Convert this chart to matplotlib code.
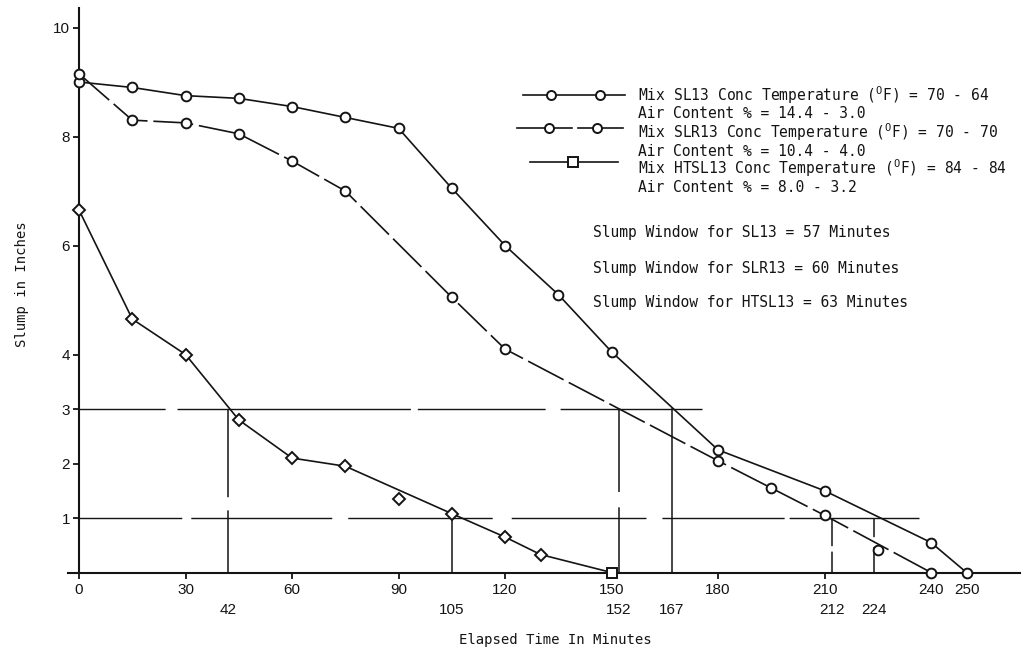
import matplotlib
matplotlib.use("Agg")
import matplotlib.pyplot as plt

plt.rcParams["mathtext.fontset"] = "custom"
plt.rcParams["mathtext.rm"] = "DejaVu Sans Mono"

# Slump loss readings: elapsed time (minutes) and slump (inches)
sl13_time = [0, 15, 30, 45, 60, 75, 90, 105, 120, 135, 150, 180, 210, 240, 250]
sl13_slump = [9.0, 8.9, 8.75, 8.7, 8.55, 8.35, 8.15, 7.05, 6.0, 5.1, 4.05, 2.25, 1.5, 0.55, 0.0]

slr13_time = [0, 15, 30, 45, 60, 75, 105, 120, 180, 195, 210, 240]
slr13_slump = [9.15, 8.3, 8.25, 8.05, 7.55, 7.0, 5.05, 4.1, 2.05, 1.55, 1.05, 0.0]
slr13_loose_time = [225]
slr13_loose_slump = [0.42]

htsl13_time = [0, 15, 30, 45, 60, 75, 105, 120, 130, 150]
htsl13_slump = [6.65, 4.65, 4.0, 2.8, 2.1, 1.95, 1.08, 0.65, 0.33, 0.0]
htsl13_loose_time = [90]
htsl13_loose_slump = [1.34]

# Slump window limits and the times at which each mix reaches them
upper_limit = 3
lower_limit = 1
upper_limit_end = 175.5
lower_limit_end = 236.5
window_times = [42, 105, 152, 167, 212, 224]
window_levels = [3, 1, 3, 3, 1, 1]

x_ticks = [0, 30, 60, 90, 120, 150, 180, 210, 240, 250]
y_ticks = [1, 2, 3, 4, 6, 8, 10]

legend_lines = [
    "Mix SL13 Conc Temperature ($^{\\mathrm{O}}$F) = 70 - 64",
    "Air Content % = 14.4 - 3.0",
    "Mix SLR13 Conc Temperature ($^{\\mathrm{O}}$F) = 70 - 70",
    "Air Content % = 10.4 - 4.0",
    "Mix HTSL13 Conc Temperature ($^{\\mathrm{O}}$F) = 84 - 84",
    "Air Content % = 8.0 - 3.2",
]
window_notes = [
    "Slump Window for SL13 = 57 Minutes",
    "Slump Window for SLR13 = 60 Minutes",
    "Slump Window for HTSL13 = 63 Minutes",
]

INK = "#141414"
MONO = ["DejaVu Sans Mono", "DejaVu Sans"]
W, H = 1026, 656

fig = plt.figure(figsize=(W / 100, H / 100), dpi=100)
ax = fig.add_axes([68.4 / W, (H - 572.5) / H, 951.4 / W, 564.6 / H])
ax.set_xlim(-3, 265)
ax.set_ylim(0, 10.36)

for side in ("top", "right"):
    ax.spines[side].set_visible(False)
ax.spines["left"].set_position(("data", 0))
for side in ("left", "bottom"):
    ax.spines[side].set_linewidth(1.5)
    ax.spines[side].set_color(INK)

ax.set_xticks(x_ticks)
ax.set_yticks(y_ticks)
ax.tick_params(axis="both", direction="out", length=4.5, width=1.3, color=INK,
               labelsize=11, labelcolor=INK)
ax.tick_params(axis="x", pad=3)
ax.tick_params(axis="y", pad=2)
for lab in ax.get_xticklabels() + ax.get_yticklabels():
    lab.set_family("Liberation Sans")

# Slump window limit lines
ax.plot([0, upper_limit_end], [upper_limit, upper_limit], color=INK, lw=1.0,
        linestyle=(0, (62, 8.6, 168, 5, 92, 10.8, 200, 1)))
ax.plot([0, lower_limit_end], [lower_limit, lower_limit], color=INK, lw=1.0,
        linestyle=(0, (74, 6.5, 101.5, 11.5, 104, 13.7, 97, 11.5, 88, 3.6, 200, 1)))

drop_styles = [
    (0, (41, 8.6, 200, 1)),
    "-",
    (0, (43, 10, 200, 1)),
    "-",
    (0, (14, 3.6, 200, 1)),
    (0, (17, 6.5, 200, 1)),
]
for t, lvl, ls in zip(window_times, window_levels, drop_styles):
    ax.plot([t, t], [0, lvl], color=INK, lw=1.1, linestyle=ls)
    ax.annotate(str(t), xy=(t, 0), xytext=(0, -27), textcoords="offset points",
                ha="center", va="center", fontsize=11, color=INK,
                family="Liberation Sans", annotation_clip=False)

# Data series
ax.plot(sl13_time, sl13_slump, color=INK, lw=1.2, marker="o", ms=7,
        mfc="white", mec=INK, mew=1.4, zorder=4, clip_on=False)
ax.plot(slr13_time, slr13_slump, color=INK, lw=1.2, marker="o", ms=7,
        mfc="white", mec=INK, mew=1.4, linestyle=(0, (24, 3.5)), zorder=4,
        clip_on=False)
ax.plot(slr13_loose_time, slr13_loose_slump, linestyle="none", marker="o", ms=7,
        mfc="white", mec=INK, mew=1.4, zorder=4)
ax.plot(htsl13_time[:-1], htsl13_slump[:-1], color=INK, lw=1.2, marker="D", ms=6,
        mfc="white", mec=INK, mew=1.4, zorder=4, clip_on=False)
ax.plot(htsl13_time[-2:], htsl13_slump[-2:], color=INK, lw=1.2, zorder=3,
        clip_on=False)
ax.plot(htsl13_time[-1:], htsl13_slump[-1:], linestyle="none", marker="s", ms=7,
        mfc="white", mec=INK, mew=1.4, zorder=4, clip_on=False)
ax.plot(htsl13_loose_time, htsl13_loose_slump, linestyle="none", marker="D", ms=6,
        mfc="white", mec=INK, mew=1.4, zorder=4)


def fx(px):
    return px / W


def fy(py):
    return (H - py) / H


# Key
tf = fig.transFigure
fig.add_artist(plt.Line2D([fx(523), fx(625)], [fy(95), fy(95)], color=INK, lw=1.2,
                          transform=tf))
fig.add_artist(plt.Line2D([fx(551), fx(600)], [fy(95), fy(95)], linestyle="none",
                          marker="o", ms=6.5, mfc="white", mec=INK, mew=1.4,
                          transform=tf))
fig.add_artist(plt.Line2D([fx(517), fx(572)], [fy(128), fy(128)], color=INK, lw=1.2,
                          transform=tf))
fig.add_artist(plt.Line2D([fx(578), fx(623)], [fy(128), fy(128)], color=INK, lw=1.2,
                          transform=tf))
fig.add_artist(plt.Line2D([fx(549), fx(597)], [fy(128), fy(128)], linestyle="none",
                          marker="o", ms=6.5, mfc="white", mec=INK, mew=1.4,
                          transform=tf))
fig.add_artist(plt.Line2D([fx(530), fx(618)], [fy(162), fy(162)], color=INK, lw=1.2,
                          transform=tf))
fig.add_artist(plt.Line2D([fx(573)], [fy(162)], linestyle="none", marker="s", ms=7,
                          mfc="white", mec=INK, mew=1.4, transform=tf))

legend_rows = [95, 113, 132, 151, 168, 187]
for txt, py in zip(legend_lines, legend_rows):
    fig.text(fx(638), fy(py), txt, family=MONO, fontsize=10.5, color=INK,
             ha="left", va="center")

for txt, py in zip(window_notes, [233, 268, 303]):
    fig.text(fx(593), fy(py), txt, family=MONO, fontsize=10.5, color=INK,
             ha="left", va="center")

fig.text(fx(555), fy(640), "Elapsed Time In Minutes", family=MONO, fontsize=10,
         color=INK, ha="center", va="center")
fig.text(fx(22), fy(284), "Slump in Inches", family=MONO, fontsize=10,
         color=INK, ha="center", va="center", rotation=90)

fig.savefig("out.png", dpi=100, facecolor="white")
